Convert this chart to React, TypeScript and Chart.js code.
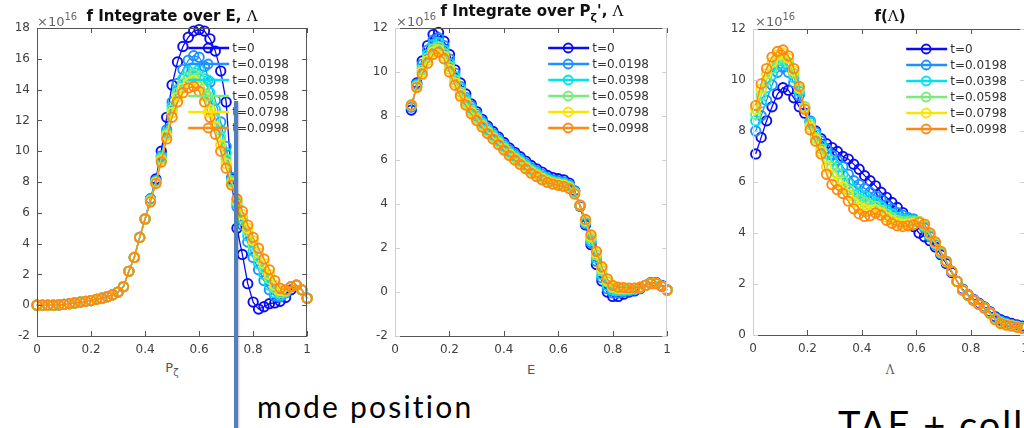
import React, { useEffect, useRef } from "react";
import { Chart, registerables } from "chart.js";

Chart.register(...registerables);

// ---------- shared legend ----------
const SERIES_LABELS = ["t=0", "t=0.0198", "t=0.0398", "t=0.0598", "t=0.0798", "t=0.0998"];
const SERIES_COLORS = [
  "rgb(10,10,245)",
  "rgb(30,144,255)",
  "rgb(0,225,240)",
  "rgb(120,235,120)",
  "rgb(250,228,0)",
  "rgb(255,135,20)",
];

// ---------- panel 1: f integrated over E, Lambda (x = P_zeta) ----------
const PZETA = [0, 0.02, 0.04, 0.06, 0.08, 0.1, 0.12, 0.14, 0.16, 0.18, 0.2, 0.22, 0.24, 0.26, 0.28, 0.3, 0.32, 0.34, 0.36, 0.38, 0.4, 0.42, 0.44, 0.46, 0.48, 0.5, 0.52, 0.54, 0.56, 0.58, 0.6, 0.62, 0.64, 0.66, 0.68, 0.7, 0.72, 0.74, 0.76, 0.78, 0.8, 0.82, 0.84, 0.86, 0.88, 0.9, 0.92, 0.94, 0.96, 0.98, 1];
const P1_T0 = [0, 0, 0, 0, 0.02, 0.05, 0.1, 0.15, 0.2, 0.25, 0.3, 0.38, 0.45, 0.55, 0.68, 0.85, 1.2, 2.2, 3.1, 4.4, 5.6, 6.9, 8.2, 10.0, 12.2, 14.3, 15.8, 16.8, 17.4, 17.8, 17.9, 17.8, 17.3, 16.5, 15.2, 13.2, 8.2, 5.0, 3.3, 1.4, 0.2, -0.25, -0.1, 0.1, 0.15, 0.25, 0.5, 1.0, 1.3, 1.0, 0.45];
const P1_T1 = [0, 0, 0, 0, 0.02, 0.05, 0.1, 0.15, 0.2, 0.25, 0.3, 0.38, 0.45, 0.55, 0.68, 0.85, 1.2, 2.2, 3.1, 4.4, 5.6, 6.9, 8.1, 9.7, 11.4, 13.2, 14.4, 15.3, 15.9, 16.2, 16.1, 15.5, 14.5, 13.3, 11.9, 10.3, 8.3, 6.4, 5.2, 4.1, 3.1, 2.3, 1.6, 1.0, 0.6, 0.55, 0.8, 1.2, 1.3, 1.0, 0.45];
const P1_T2 = [0, 0, 0, 0, 0.02, 0.05, 0.1, 0.15, 0.2, 0.25, 0.3, 0.38, 0.45, 0.55, 0.68, 0.85, 1.2, 2.2, 3.1, 4.4, 5.6, 6.85, 8.0, 9.6, 11.2, 12.9, 14.0, 14.7, 15.2, 15.4, 15.3, 14.7, 13.8, 12.7, 11.4, 9.9, 8.1, 6.6, 5.5, 4.5, 3.5, 2.7, 2.0, 1.3, 0.8, 0.65, 0.85, 1.2, 1.3, 1.0, 0.45];
const P1_T3 = [0, 0, 0, 0, 0.02, 0.05, 0.1, 0.15, 0.2, 0.25, 0.3, 0.38, 0.45, 0.55, 0.68, 0.85, 1.2, 2.2, 3.1, 4.4, 5.6, 6.8, 8.0, 9.5, 11.1, 12.7, 13.8, 14.4, 14.8, 15.0, 14.8, 14.1, 13.2, 12.1, 10.9, 9.5, 8.0, 6.7, 5.7, 4.8, 3.9, 3.1, 2.4, 1.7, 1.1, 0.8, 0.9, 1.2, 1.3, 1.0, 0.45];
const P1_T4 = [0, 0, 0, 0, 0.02, 0.05, 0.1, 0.15, 0.2, 0.25, 0.3, 0.38, 0.45, 0.55, 0.68, 0.85, 1.2, 2.2, 3.1, 4.4, 5.6, 6.75, 7.95, 9.4, 11.0, 12.5, 13.5, 14.1, 14.4, 14.6, 14.3, 13.6, 12.7, 11.6, 10.4, 9.2, 7.9, 6.8, 5.9, 5.0, 4.2, 3.4, 2.7, 2.0, 1.3, 0.95, 0.95, 1.2, 1.3, 1.0, 0.45];
const P1_T5 = [0, 0, 0, 0, 0.02, 0.05, 0.1, 0.15, 0.2, 0.25, 0.3, 0.38, 0.45, 0.55, 0.68, 0.85, 1.2, 2.2, 3.1, 4.4, 5.6, 6.7, 7.9, 9.3, 10.8, 12.2, 13.2, 13.8, 14.1, 14.2, 13.9, 13.2, 12.2, 11.1, 10.0, 8.9, 7.8, 6.9, 6.1, 5.2, 4.4, 3.7, 3.0, 2.3, 1.6, 1.1, 1.0, 1.2, 1.3, 1.0, 0.45];

// ---------- panel 2: f integrated over P_zeta, Lambda (x = E) ----------
const ENERGY = [0.06, 0.08, 0.1, 0.12, 0.14, 0.16, 0.18, 0.2, 0.22, 0.24, 0.26, 0.28, 0.3, 0.32, 0.34, 0.36, 0.38, 0.4, 0.42, 0.44, 0.46, 0.48, 0.5, 0.52, 0.54, 0.56, 0.58, 0.6, 0.62, 0.64, 0.66, 0.68, 0.7, 0.72, 0.74, 0.76, 0.78, 0.8, 0.82, 0.84, 0.86, 0.88, 0.9, 0.92, 0.94, 0.96, 0.98, 1.0];
const E_T0 = [8.27, 9.5, 10.5, 11.2, 11.7, 11.8, 11.4, 10.8, 10.1, 9.5, 9.0, 8.55, 8.2, 7.85, 7.55, 7.3, 7.05, 6.8, 6.55, 6.35, 6.15, 5.95, 5.75, 5.6, 5.45, 5.3, 5.2, 5.15, 5.1, 4.95, 4.6, 3.9, 3.05, 2.15, 1.25, 0.5, 0.0, -0.2, -0.2, -0.1, 0.0, 0.05, 0.15, 0.3, 0.42, 0.42, 0.3, 0.1];
const E_T1 = [8.4, 9.45, 10.35, 11.0, 11.45, 11.55, 11.2, 10.6, 9.95, 9.35, 8.85, 8.45, 8.1, 7.75, 7.45, 7.2, 6.95, 6.7, 6.45, 6.25, 6.05, 5.85, 5.65, 5.5, 5.35, 5.2, 5.1, 5.05, 5.0, 4.88, 4.58, 3.92, 3.1, 2.25, 1.4, 0.65, 0.15, -0.05, -0.05, 0.0, 0.05, 0.1, 0.17, 0.3, 0.41, 0.41, 0.28, 0.09];
const E_T2 = [8.45, 9.4, 10.2, 10.8, 11.25, 11.35, 11.0, 10.4, 9.8, 9.25, 8.75, 8.35, 8.0, 7.68, 7.38, 7.12, 6.87, 6.62, 6.37, 6.17, 5.97, 5.77, 5.57, 5.42, 5.27, 5.13, 5.03, 4.98, 4.93, 4.82, 4.54, 3.93, 3.17, 2.35, 1.55, 0.8, 0.3, 0.08, 0.06, 0.07, 0.1, 0.13, 0.19, 0.3, 0.4, 0.4, 0.27, 0.08];
const E_T3 = [8.48, 9.35, 10.1, 10.65, 11.05, 11.15, 10.85, 10.25, 9.65, 9.1, 8.65, 8.25, 7.92, 7.6, 7.3, 7.05, 6.8, 6.55, 6.3, 6.1, 5.9, 5.7, 5.5, 5.35, 5.2, 5.07, 4.98, 4.93, 4.88, 4.77, 4.5, 3.94, 3.22, 2.45, 1.67, 0.95, 0.45, 0.18, 0.13, 0.13, 0.14, 0.16, 0.21, 0.3, 0.39, 0.39, 0.26, 0.08];
const E_T4 = [8.5, 9.32, 10.0, 10.52, 10.92, 11.02, 10.72, 10.12, 9.52, 9.0, 8.57, 8.17, 7.85, 7.55, 7.25, 7.0, 6.75, 6.5, 6.25, 6.05, 5.85, 5.65, 5.45, 5.3, 5.15, 5.02, 4.94, 4.89, 4.84, 4.73, 4.47, 3.95, 3.26, 2.53, 1.76, 1.05, 0.53, 0.25, 0.18, 0.17, 0.16, 0.17, 0.22, 0.3, 0.38, 0.38, 0.25, 0.08];
const E_T5 = [8.5, 9.3, 9.9, 10.4, 10.8, 10.9, 10.6, 10.0, 9.4, 8.9, 8.5, 8.1, 7.8, 7.5, 7.2, 6.95, 6.7, 6.45, 6.2, 6.0, 5.8, 5.6, 5.4, 5.25, 5.1, 4.98, 4.9, 4.85, 4.8, 4.7, 4.45, 3.95, 3.3, 2.6, 1.85, 1.15, 0.6, 0.3, 0.22, 0.2, 0.18, 0.18, 0.22, 0.3, 0.38, 0.38, 0.25, 0.08];

// ---------- panel 3: f(Lambda) ----------
const LAMBDA = [0.01, 0.03, 0.05, 0.07, 0.09, 0.11, 0.13, 0.15, 0.17, 0.19, 0.21, 0.23, 0.25, 0.27, 0.29, 0.31, 0.33, 0.35, 0.37, 0.39, 0.41, 0.43, 0.45, 0.47, 0.49, 0.51, 0.53, 0.55, 0.57, 0.59, 0.61, 0.63, 0.65, 0.67, 0.69, 0.71, 0.73, 0.75, 0.77, 0.79, 0.81, 0.83, 0.85, 0.87, 0.89, 0.91, 0.93, 0.95, 0.97, 0.99];
const L_T0 = [7.1, 7.75, 8.4, 8.95, 9.45, 9.7, 9.6, 9.3, 8.95, 8.7, 8.35, 8.0, 7.7, 7.5, 7.35, 7.2, 7.0, 6.9, 6.7, 6.5, 6.25, 6.05, 5.85, 5.6, 5.4, 5.2, 5.0, 4.8, 4.55, 4.25, 4.0, 3.85, 3.7, 3.45, 3.15, 2.8, 2.45, 2.1, 1.8, 1.58, 1.4, 1.25, 1.1, 0.92, 0.72, 0.6, 0.52, 0.45, 0.4, 0.35];
const L_T1 = [8.0, 8.6, 9.2, 9.8, 10.3, 10.5, 10.3, 9.9, 9.4, 8.9, 8.4, 7.95, 7.6, 7.3, 7.05, 6.85, 6.6, 6.3, 6.05, 5.9, 5.75, 5.6, 5.45, 5.3, 5.1, 4.95, 4.8, 4.7, 4.6, 4.55, 4.45, 4.2, 3.85, 3.55, 3.2, 2.85, 2.5, 2.1, 1.78, 1.57, 1.38, 1.22, 1.08, 0.9, 0.68, 0.55, 0.47, 0.41, 0.36, 0.31];
const L_T2 = [8.4, 9.1, 9.7, 10.2, 10.6, 10.75, 10.55, 10.1, 9.55, 8.95, 8.35, 7.85, 7.45, 7.1, 6.85, 6.6, 6.3, 5.95, 5.7, 5.55, 5.45, 5.3, 5.2, 5.05, 4.9, 4.75, 4.62, 4.55, 4.52, 4.5, 4.45, 4.25, 3.9, 3.58, 3.22, 2.87, 2.5, 2.1, 1.77, 1.56, 1.37, 1.21, 1.07, 0.88, 0.65, 0.51, 0.44, 0.39, 0.34, 0.29];
const L_T3 = [8.65, 9.4, 10.0, 10.45, 10.8, 10.9, 10.7, 10.25, 9.65, 8.95, 8.25, 7.75, 7.3, 6.9, 6.6, 6.35, 6.05, 5.7, 5.45, 5.3, 5.2, 5.1, 5.05, 4.9, 4.75, 4.62, 4.5, 4.45, 4.45, 4.45, 4.45, 4.3, 3.95, 3.6, 3.25, 2.88, 2.5, 2.1, 1.76, 1.56, 1.36, 1.2, 1.06, 0.86, 0.63, 0.48, 0.42, 0.37, 0.32, 0.27];
const L_T4 = [8.85, 9.65, 10.25, 10.7, 10.98, 11.05, 10.85, 10.35, 9.7, 8.9, 8.15, 7.68, 7.2, 6.6, 6.25, 6.0, 5.8, 5.5, 5.2, 5.0, 4.92, 4.9, 4.92, 4.8, 4.62, 4.5, 4.4, 4.35, 4.36, 4.38, 4.44, 4.33, 3.98, 3.62, 3.27, 2.89, 2.5, 2.1, 1.75, 1.55, 1.35, 1.2, 1.05, 0.85, 0.61, 0.46, 0.4, 0.36, 0.31, 0.26];
const L_T5 = [9.0, 9.85, 10.45, 10.9, 11.12, 11.18, 10.95, 10.45, 9.75, 8.85, 8.05, 7.6, 7.1, 6.3, 5.9, 5.7, 5.55, 5.25, 4.95, 4.75, 4.65, 4.68, 4.78, 4.7, 4.5, 4.38, 4.28, 4.25, 4.28, 4.32, 4.42, 4.35, 4.0, 3.65, 3.28, 2.9, 2.5, 2.1, 1.75, 1.55, 1.35, 1.2, 1.05, 0.85, 0.6, 0.45, 0.39, 0.35, 0.3, 0.26];

const X_TICKS_STEP = 0.2;
const Y_TICKS_STEP = 2;

const FONT = "'DejaVu Sans', sans-serif";

// draws a MATLAB-like box with inward ticks on all four sides
const boxPlugin = {
  id: "matBox",
  afterDraw(chart: any, _args: any, opts: any) {
    const { ctx, chartArea } = chart;
    const { left, right, top, bottom } = chartArea;
    const xs = chart.scales.x;
    const ys = chart.scales.y;
    const tl = 5;
    ctx.save();
    ctx.lineWidth = 1;
    ctx.strokeStyle = opts.tb;
    ctx.beginPath();
    ctx.moveTo(left, Math.round(top) + 0.5);
    ctx.lineTo(right, Math.round(top) + 0.5);
    ctx.moveTo(left, Math.round(bottom) + 0.5);
    ctx.lineTo(right, Math.round(bottom) + 0.5);
    xs.ticks.forEach((t: any) => {
      const px = Math.round(xs.getPixelForValue(t.value)) + 0.5;
      ctx.moveTo(px, bottom);
      ctx.lineTo(px, bottom - tl);
      ctx.moveTo(px, top);
      ctx.lineTo(px, top + tl);
    });
    ctx.stroke();
    ctx.strokeStyle = opts.side;
    ctx.beginPath();
    ctx.moveTo(Math.round(left) + 0.5, top);
    ctx.lineTo(Math.round(left) + 0.5, bottom);
    ctx.moveTo(Math.round(right) - 0.5, top);
    ctx.lineTo(Math.round(right) - 0.5, bottom);
    ys.ticks.forEach((t: any) => {
      const py = Math.round(ys.getPixelForValue(t.value)) + 0.5;
      ctx.moveTo(left, py);
      ctx.lineTo(left + tl, py);
      ctx.moveTo(right, py);
      ctx.lineTo(right - tl, py);
    });
    ctx.stroke();
    ctx.restore();
  },
};

// legend drawn inside the axes, upper right, transparent (box off)
const legendPlugin = {
  id: "matLegend",
  afterDraw(chart: any) {
    const { ctx, chartArea } = chart;
    const x0 = chartArea.right - 119;
    ctx.save();
    chart.data.datasets.forEach((ds: any, i: number) => {
      const y = chartArea.top + 20 + 16 * i;
      ctx.strokeStyle = ds.borderColor;
      ctx.lineWidth = 2.5;
      ctx.beginPath();
      ctx.moveTo(x0, y);
      ctx.lineTo(x0 + 41, y);
      ctx.stroke();
      ctx.lineWidth = 1.8;
      ctx.beginPath();
      ctx.arc(x0 + 20, y, 4.5, 0, Math.PI * 2);
      ctx.stroke();
      ctx.fillStyle = "#333";
      ctx.font = "12px " + FONT;
      ctx.textBaseline = "middle";
      ctx.textAlign = "left";
      ctx.fillText(ds.label, x0 + 44, y + 0.5);
    });
    ctx.restore();
  },
};

type PanelProps = {
  left: number;
  width: number;
  height: number;
  yAxisWidth: number;
  plotTop: number;
  plotBottom: number;
  xs: number[];
  series: number[][];
  yMin: number;
  yMax: number;
  sideColor: string;
  tbColor: string;
};

function Panel(p: PanelProps) {
  const ref = useRef<HTMLCanvasElement>(null);
  useEffect(() => {
    const canvas = ref.current!;
    const xAxisHeight = p.height - p.plotBottom;
    const chart = new Chart(canvas, {
      type: "line",
      data: {
        datasets: p.series.map((ys, i) => ({
          label: SERIES_LABELS[i],
          data: p.xs.map((x, j) => ({ x, y: ys[j] })),
          borderColor: SERIES_COLORS[i],
          borderWidth: 1.3,
          pointRadius: 4.7,
          pointHoverRadius: 4.7,
          pointBorderWidth: 1.9,
          pointBorderColor: SERIES_COLORS[i],
          pointBackgroundColor: "rgba(0,0,0,0)",
          tension: 0,
          order: 10 - i,
          clip: false as any,
        })),
      },
      options: {
        animation: false,
        responsive: false,
        devicePixelRatio: 1,
        events: [],
        layout: {
          autoPadding: false,
          padding: { left: 0, right: 10, top: p.plotTop, bottom: 0 },
        },
        scales: {
          x: {
            type: "linear",
            min: 0,
            max: 1,
            afterFit: (s: any) => {
              s.height = xAxisHeight;
            },
            grid: { display: false, drawTicks: false },
            border: { display: false },
            ticks: {
              stepSize: X_TICKS_STEP,
              padding: 7,
              color: "#404040",
              font: { family: FONT, size: 12 },
              maxRotation: 0,
              autoSkip: false,
              callback: (v: any) => String(Math.round(Number(v) * 10) / 10),
            },
          },
          y: {
            type: "linear",
            min: p.yMin,
            max: p.yMax,
            afterFit: (s: any) => {
              s.width = p.yAxisWidth;
            },
            grid: { display: false, drawTicks: false },
            border: { display: false },
            ticks: {
              stepSize: Y_TICKS_STEP,
              padding: 7,
              color: "#404040",
              font: { family: FONT, size: 12 },
              callback: (v: any) => String(Math.round(Number(v))),
            },
          },
        },
        plugins: {
          legend: { display: false },
          tooltip: { enabled: false },
          title: { display: false },
          matBox: { side: p.sideColor, tb: p.tbColor },
        } as any,
      },
      plugins: [boxPlugin, legendPlugin],
    } as any);
    return () => chart.destroy();
  }, []);
  return (
    <canvas
      ref={ref}
      width={p.width}
      height={p.height}
      style={{ position: "absolute", left: p.left, top: 0, width: p.width, height: p.height }}
    />
  );
}

const abs = (s: React.CSSProperties): React.CSSProperties => ({
  position: "absolute",
  whiteSpace: "nowrap",
  fontFamily: FONT,
  lineHeight: 1,
  margin: 0,
  ...s,
});

function Exponent({ left, top }: { left: number; top: number }) {
  return (
    <div style={abs({ left, top, fontSize: 13, color: "#666" })}>
      ×10<sup style={{ fontSize: 10, verticalAlign: 6 }}>16</sup>
    </div>
  );
}

const LAMBDA_STYLE: React.CSSProperties = { fontWeight: "normal", fontFamily: "'DejaVu Serif', serif" };

export default function App() {
  return (
    <div
      style={{
        position: "fixed",
        left: 0,
        top: 0,
        width: 1024,
        height: 428,
        overflow: "hidden",
        background: "#fff",
      }}
    >
      <Panel
        left={0}
        width={318}
        height={360}
        yAxisWidth={37}
        plotTop={28}
        plotBottom={336}
        xs={PZETA}
        series={[P1_T0, P1_T1, P1_T2, P1_T3, P1_T4, P1_T5]}
        yMin={-2}
        yMax={18}
        sideColor="#555"
        tbColor="#555"
      />
      <Panel
        left={360}
        width={318}
        height={360}
        yAxisWidth={35}
        plotTop={28}
        plotBottom={336}
        xs={ENERGY}
        series={[E_T0, E_T1, E_T2, E_T3, E_T4, E_T5]}
        yMin={-2}
        yMax={12}
        sideColor="#cfcfcf"
        tbColor="#555"
      />
      <Panel
        left={718}
        width={318}
        height={360}
        yAxisWidth={35}
        plotTop={29}
        plotBottom={335}
        xs={LAMBDA}
        series={[L_T0, L_T1, L_T2, L_T3, L_T4, L_T5]}
        yMin={0}
        yMax={12}
        sideColor="#cfcfcf"
        tbColor="#555"
      />

      {/* titles */}
      <Exponent left={37} top={12} />
      <div style={abs({ left: 172, top: 9, transform: "translateX(-50%)", fontSize: 15, fontWeight: "bold", color: "#111" })}>
        f Integrate over E, <span style={LAMBDA_STYLE}>Λ</span>
      </div>

      <Exponent left={396} top={12} />
      <div style={abs({ left: 532, top: 4, transform: "translateX(-50%)", fontSize: 15, fontWeight: "bold", color: "#111" })}>
        f Integrate over P<sub style={{ fontSize: 11, verticalAlign: -5 }}>ζ</sub>', <span style={LAMBDA_STYLE}>Λ</span>
      </div>

      <Exponent left={755} top={12} />
      <div style={abs({ left: 890, top: 9, transform: "translateX(-50%)", fontSize: 15, fontWeight: "bold", color: "#111" })}>
        f(<span style={LAMBDA_STYLE}>Λ</span>)
      </div>

      {/* axis labels */}
      <div style={abs({ left: 172, top: 361, transform: "translateX(-50%)", fontSize: 13, color: "#555" })}>
        P<sub style={{ fontSize: 10, verticalAlign: -4 }}>ζ</sub>
      </div>
      <div style={abs({ left: 531, top: 363, transform: "translateX(-50%)", fontSize: 13, color: "#555" })}>E</div>
      <div style={abs({ left: 890, top: 364, transform: "translateX(-50%)", fontSize: 12, color: "#666", fontFamily: "'DejaVu Serif', serif" })}>Λ</div>

      {/* slide annotations */}
      <div
        style={{
          position: "absolute",
          left: 234,
          top: 101,
          width: 4,
          height: 340,
          background: "#4f7fbd",
          boxShadow: "1px 1px 2px rgba(0,0,0,0.25)",
        }}
      />
      <div style={abs({ left: 257, top: 391, fontSize: 30, letterSpacing: 2.2, color: "#000", fontFamily: "Lato, sans-serif" })}>mode position</div>
      <div style={abs({ left: 838, top: 405, fontSize: 38, letterSpacing: 2, color: "#000", fontFamily: "Lato, sans-serif" })}>TAE + coll</div>
    </div>
  );
}
